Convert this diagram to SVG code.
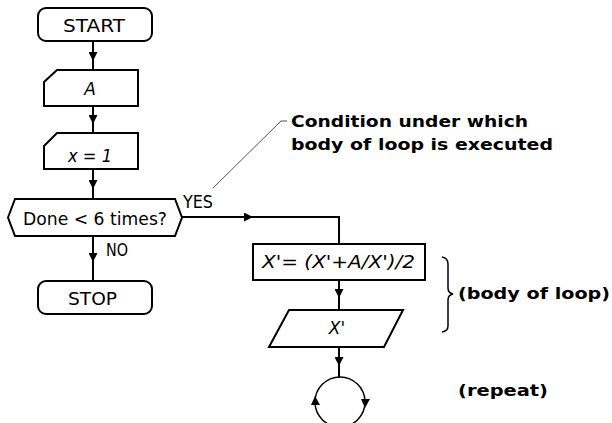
<svg xmlns="http://www.w3.org/2000/svg" width="612" height="423" viewBox="0 0 612 423">
<style>
.shape{fill:#fff;stroke:#000;stroke-width:2}
.conn{fill:none;stroke:#000;stroke-width:2}
.t{font-family:"DejaVu Sans","Liberation Sans",sans-serif;font-size:17px;fill:#000}
.it{font-style:italic}
.b{font-family:"DejaVu Sans","Liberation Sans",sans-serif;font-weight:bold;font-size:16px;fill:#000}
.ah{fill:#000}
</style>
<defs>
<marker id="arr" viewBox="0 0 10 10" refX="10" refY="5" markerWidth="9" markerHeight="9" markerUnits="userSpaceOnUse" orient="auto">
<path d="M0,0 L10,5 L0,10 z" fill="#000"/>
</marker>
</defs>
<rect width="612" height="423" fill="#fff"/>

<g id="connectors">
<polyline class="conn" points="93,41 93,61 93,70" marker-mid="url(#arr)"/>
<polyline class="conn" points="93,106 93,124 93,133" marker-mid="url(#arr)"/>
<polyline class="conn" points="93,169 93,189 93,199" marker-mid="url(#arr)"/>
<polyline class="conn" points="93,236 93,262 93,281" marker-mid="url(#arr)"/>
<polyline class="conn" points="182,217 253,217 300,217" marker-mid="url(#arr)"/>
<polyline class="conn" points="299,217 339,217 339,244"/>
<polyline class="conn" points="339,280 339,298 339,310" marker-mid="url(#arr)"/>
<polyline class="conn" points="339,347 339,366 339,377" marker-mid="url(#arr)"/>
<polyline fill="none" stroke="#555" stroke-width="1" points="213,188 281,121 287,121"/>
<text class="t" x="183" y="208" textLength="30" lengthAdjust="spacingAndGlyphs">YES</text>
<text class="t" x="106" y="256" textLength="22" lengthAdjust="spacingAndGlyphs">NO</text>
</g>

<g id="start">
<rect class="shape" x="38" y="8" width="114" height="33" rx="8"/>
<text class="t" x="63" y="32" textLength="62" lengthAdjust="spacingAndGlyphs">START</text>
</g>

<g id="inputA">
<path class="shape" d="M44,82 L57,70 L138,70 L138,106 L44,106 Z"/>
<text class="t it" x="90" y="95" text-anchor="middle">A</text>
</g>

<g id="initX">
<path class="shape" d="M44,146 L57,133 L138,133 L138,169 L44,169 Z"/>
<text class="t it" x="68" y="162" textLength="44" lengthAdjust="spacingAndGlyphs">x = 1</text>
</g>

<g id="decision">
<path class="shape" d="M8,217.5 L15,199 L175,199 L182,217.5 L175,236 L15,236 Z"/>
<text class="t" x="23" y="225" textLength="144" lengthAdjust="spacingAndGlyphs">Done &lt; 6 times?</text>
</g>

<g id="stop">
<rect class="shape" x="38" y="281" width="114" height="33" rx="8"/>
<text class="t" x="68" y="305" textLength="49" lengthAdjust="spacingAndGlyphs">STOP</text>
</g>

<g id="compute">
<rect class="shape" x="253" y="244" width="172" height="36"/>
<text class="t it" x="262" y="268" textLength="153" lengthAdjust="spacingAndGlyphs">X'= (X'+A/X')/2</text>
</g>

<g id="outputX">
<path class="shape" d="M289,310 L403,310 L384,347 L269,347 Z"/>
<text class="t it" x="337" y="334" text-anchor="middle">X'</text>
</g>

<g id="repeat">
<circle cx="340" cy="402" r="25" fill="none" stroke="#000" stroke-width="1.5"/>
<polygon class="ah" points="315,396 311,405 320,405"/>
<polygon class="ah" points="365,408 361,399 370,399"/>
</g>

<g id="annotations">
<path fill="none" stroke="#000" stroke-width="1.5" d="M442,257 Q448,258 448,264 L448,288 Q448,293 453,294 Q448,295 448,300 L448,326 Q448,331 442,332"/>
<text class="b" x="291" y="127" textLength="237" lengthAdjust="spacingAndGlyphs">Condition under which</text>
<text class="b" x="291" y="150" textLength="262" lengthAdjust="spacingAndGlyphs">body of loop is executed</text>
<text class="b" x="458" y="299" textLength="152" lengthAdjust="spacingAndGlyphs">(body of loop)</text>
<text class="b" x="458" y="396" textLength="90" lengthAdjust="spacingAndGlyphs">(repeat)</text>
</g>
</svg>
